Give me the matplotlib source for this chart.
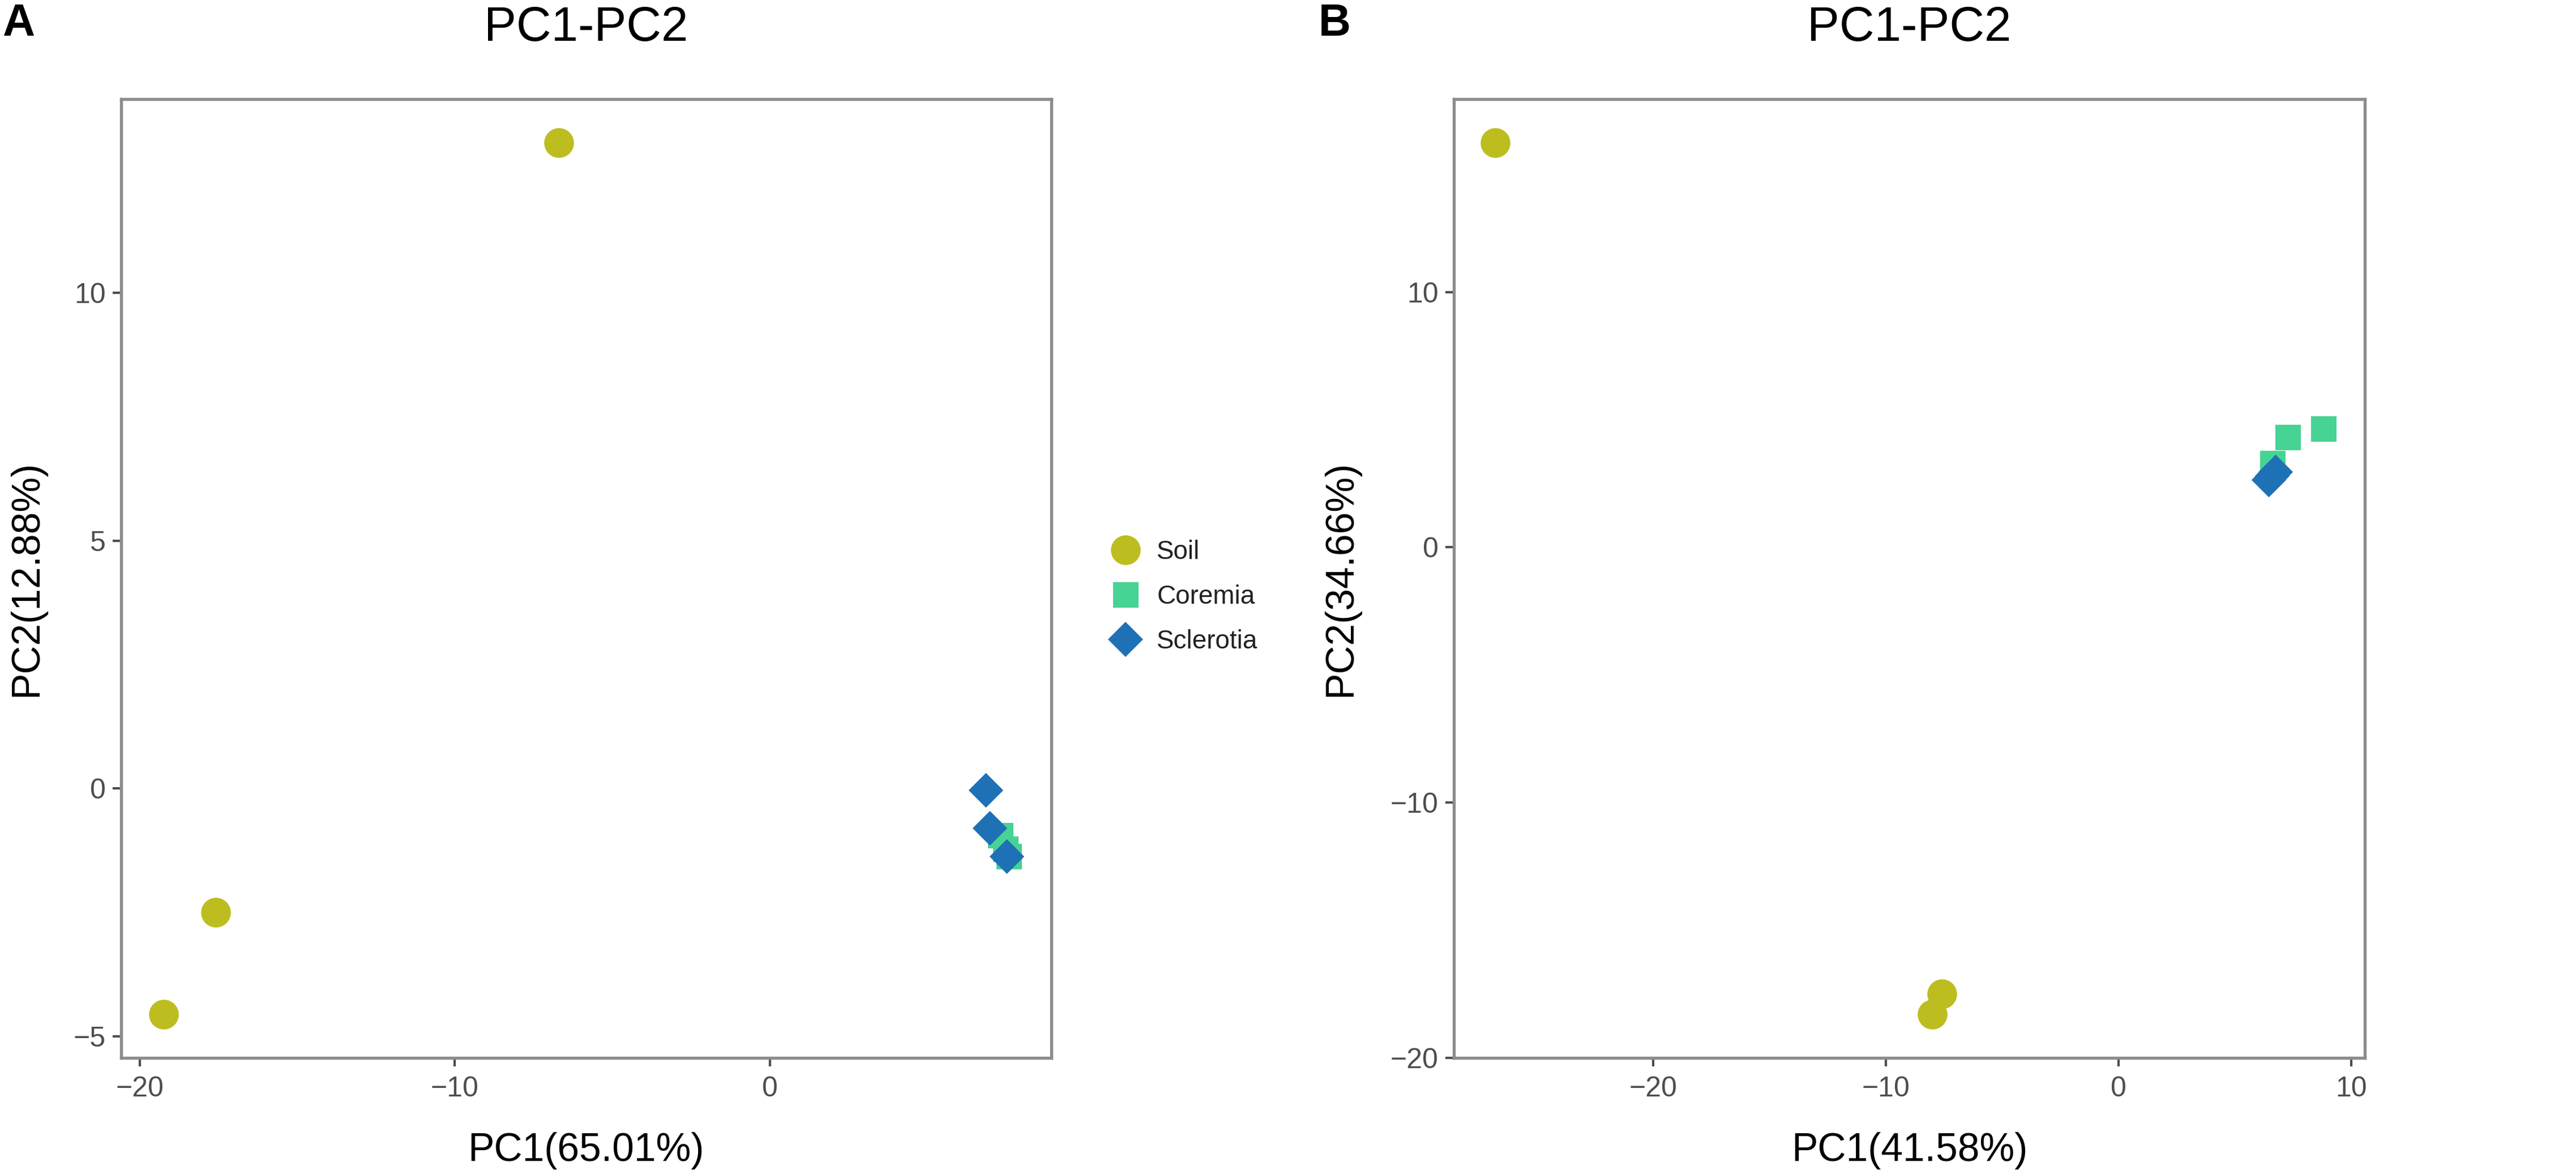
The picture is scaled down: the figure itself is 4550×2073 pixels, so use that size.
import matplotlib
matplotlib.use("Agg")
import matplotlib.pyplot as plt
from matplotlib.lines import Line2D
from matplotlib.ticker import MultipleLocator

plt.rcParams['font.family'] = ['Liberation Sans', 'DejaVu Sans']

# ---------------- data ----------------
groups = ["Soil", "Coremia", "Sclerotia"]
colors = ["#BDBD1F", "#46D393", "#1F71B6"]
markers = ["o", "s", "D"]
msizes = [12.6, 10.8, 10.4]

# Panel A: PC1 (65.01%) vs PC2 (12.88%)
a_soil_x = [-6.7, -17.6, -19.25]
a_soil_y = [13.03, -2.5, -4.56]
a_cor_x = [7.32, 7.59, 7.48]
a_cor_y = [-0.95, -1.37, -1.22]
a_scl_x = [6.85, 6.98, 7.52]
a_scl_y = [-0.03, -0.80, -1.37]

# Panel B: PC1 (41.58%) vs PC2 (34.66%)
b_soil_x = [-26.8, -7.6, -8.0]
b_soil_y = [15.85, -17.5, -18.3]
b_cor_x = [6.63, 7.28, 8.81]
b_cor_y = [3.3, 4.31, 4.64]
b_scl_x = [6.45, 6.6, 6.75]
b_scl_y = [2.65, 2.8, 2.95]

panels = [
    dict(tag="A", title="PC1-PC2", xlabel="PC1(65.01%)", ylabel="PC2(12.88%)",
         xs=[a_soil_x, a_cor_x, a_scl_x], ys=[a_soil_y, a_cor_y, a_scl_y],
         xstep=10, ystep=5),
    dict(tag="B", title="PC1-PC2", xlabel="PC1(41.58%)", ylabel="PC2(34.66%)",
         xs=[b_soil_x, b_cor_x, b_scl_x], ys=[b_soil_y, b_cor_y, b_scl_y],
         xstep=10, ystep=10),
]

# ---------------- layout ----------------
W, H = 4550, 2073
DPI = 300
fig = plt.figure(figsize=(W / DPI, H / DPI), dpi=DPI)
fig.patch.set_facecolor("white")

ax_top_px, ax_bot_px = 175, 1868
rects = [(214, 1857), (2568, 4177)]
ylab_x = [-0.0816, -0.1035]
tag_x = [4, 2329]

border_col = "#8C8C8C"
tick_col = "#4D4D4D"

for i, p in enumerate(panels):
    l, r = rects[i]
    ax = fig.add_axes([l / W, (H - ax_bot_px) / H, (r - l) / W, (ax_bot_px - ax_top_px) / H])
    for g in range(3):
        ax.scatter(p["xs"][g], p["ys"][g], s=msizes[g] ** 2, c=colors[g],
                   marker=markers[g], linewidths=0, zorder=3 + g)
    ax.margins(0.05)
    ax.xaxis.set_major_locator(MultipleLocator(p["xstep"]))
    ax.yaxis.set_major_locator(MultipleLocator(p["ystep"]))
    for sp in ax.spines.values():
        sp.set_color(border_col)
        sp.set_linewidth(1.3)
    ax.tick_params(axis="both", direction="out", length=3.6, width=1.0,
                   color=tick_col, labelcolor=tick_col, labelsize=12)
    ax.tick_params(axis="x", pad=4)
    ax.tick_params(axis="y", pad=3)
    ax.set_xlabel(p["xlabel"], fontsize=16.7, color="black", va="baseline")
    ax.xaxis.set_label_coords(0.5, (ax_bot_px - 2050) / (ax_bot_px - ax_top_px))
    ax.set_ylabel(p["ylabel"], fontsize=16.7, color="black")
    ax.yaxis.set_label_coords(ylab_x[i], 0.5)
    # title
    fig.text((l + r) / 2 / W, 1 - 72 / H, p["title"], fontsize=20.5,
             ha="center", va="baseline", color="black")
    # panel tag
    fig.text(tag_x[i] / W, 1 - 63 / H, p["tag"], fontsize=19, fontweight="bold",
             ha="left", va="baseline", color="black")

# legend (to the right of panel A)
handles = [Line2D([], [], linestyle="none", marker=markers[g], markersize=msizes[g],
                  markerfacecolor=colors[g], markeredgewidth=0) for g in range(3)]
fig.legend(handles, groups, loc="center left", bbox_to_anchor=(1960 / W, 1 - 1054 / H),
           frameon=False, fontsize=11, handlelength=1.2, handletextpad=0.62,
           labelspacing=0.77, borderpad=0, borderaxespad=0, labelcolor="#222222")

fig.savefig("out.png", dpi=DPI, facecolor="white")
